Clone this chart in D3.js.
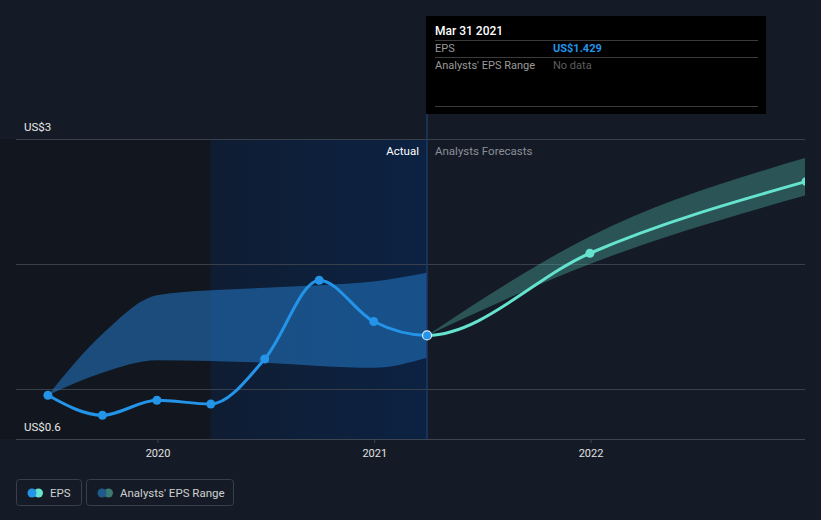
<!DOCTYPE html>
<html>
<head>
<meta charset="utf-8">
<script src="https://cdn.jsdelivr.net/npm/d3@7/dist/d3.min.js"></script>
<style>
  html, body { margin: 0; padding: 0; background: #151b26; }
  svg { display: block; font-family: Roboto, "Open Sans", sans-serif; }
</style>
</head>
<body>
<svg id="chart" width="821" height="520"></svg>
<script>
// ---- data ----
const actualDates = ["2019-06-30", "2019-09-30", "2019-12-31", "2020-03-31", "2020-06-30", "2020-09-30", "2020-12-31", "2021-03-31"];
const actualEPS = [0.95, 0.79, 0.91, 0.88, 1.24, 1.87, 1.54, 1.429];
const actualRangeLow = [0.95, 1.13, 1.23, 1.225, 1.21, 1.185, 1.17, 1.25];
const actualRangeHigh = [0.95, 1.44, 1.75, 1.79, 1.81, 1.83, 1.86, 1.93];
const forecastDates = ["2021-03-31", "2021-12-31", "2022-12-31"];
const forecastEPS = [1.429, 2.086, 2.66];
const forecastLow = [1.429, 2.0, 2.55];
const forecastHigh = [1.429, 2.22, 2.85];
const yTickValues = [0.6, 1, 2, 3];
const yTickLabels = ["US$0.6", "", "", "US$3"];
const xTickYears = ["2020", "2021", "2022"];

const parse = d3.timeParse("%Y-%m-%d");
const svg = d3.select("#chart");
const W = 821, H = 520;
const pLeft = 16, pRight = 805, pTop = 139, pBottom = 439;

const x = d3.scaleTime()
  .domain([parse("2020-01-01"), parse("2022-01-01")])
  .range([157.5, 590.5]);
const y = d3.scaleLinear().domain([0.6, 3]).range([pBottom, pTop]);

const nowDate = parse("2021-03-31");
const highlightStart = parse("2020-03-31");
const xNow = x(nowDate);

// background
svg.append("rect").attr("width", W).attr("height", H).attr("fill", "#151b26");
const defs = svg.append("defs");
const grad = defs.append("linearGradient").attr("id", "hl").attr("x1", 0).attr("x2", 1).attr("y1", 0).attr("y2", 0);
grad.append("stop").attr("offset", 0).attr("stop-color", "#0f1d33");
grad.append("stop").attr("offset", 1).attr("stop-color", "#0c2242");

svg.append("rect").attr("x", 0).attr("y", pTop).attr("width", x(highlightStart)).attr("height", pBottom - pTop).attr("fill", "#12171f");
svg.append("rect").attr("x", x(highlightStart)).attr("y", pTop).attr("width", xNow - x(highlightStart)).attr("height", pBottom - pTop).attr("fill", "url(#hl)");

// gridlines
svg.append("g").selectAll("line").data(yTickValues.slice(1)).join("line")
  .attr("x1", pLeft).attr("x2", pRight).attr("y1", d => y(d) + 0.5).attr("y2", d => y(d) + 0.5)
  .attr("stroke", "#3a404b").attr("stroke-width", 1);

// x axis
const xAxis = svg.append("g").attr("transform", `translate(0,${pBottom})`)
  .call(d3.axisBottom(x).tickValues(xTickYears.map(s => parse(s + "-01-01"))).tickFormat(d3.timeFormat("%Y")).tickSize(4).tickPadding(6));
xAxis.select(".domain").attr("stroke", "#3f4550").attr("d", `M${pLeft},0.5H${pRight}`);
xAxis.selectAll(".tick line").attr("stroke", "#3f4550");
xAxis.selectAll(".tick text").attr("fill", "#e0e0e0").attr("font-size", 11).attr("font-family", "Roboto, sans-serif");

// y labels
svg.append("g").selectAll("text").data(yTickValues.map((v, i) => ({v, l: yTickLabels[i]})).filter(d => d.l)).join("text")
  .attr("x", 24).attr("y", d => y(d.v) - 8).attr("fill", "#e8e8e8").attr("font-size", 11.5)
  .text(d => d.l);

// clip
defs.append("clipPath").attr("id", "plot").append("rect").attr("x", pLeft).attr("y", 0).attr("width", pRight - pLeft).attr("height", pBottom);
defs.append("clipPath").attr("id", "leftClip").append("rect").attr("x", 0).attr("y", 0).attr("width", xNow).attr("height", H);
defs.append("clipPath").attr("id", "rightClip").append("rect").attr("x", xNow).attr("y", 0).attr("width", pRight - xNow).attr("height", H);

const plot = svg.append("g").attr("clip-path", "url(#plot)");

// actual range band
const aData = actualDates.map((d, i) => ({d: parse(d), lo: actualRangeLow[i], hi: actualRangeHigh[i]}));
const area = d3.area().x(d => x(d.d)).y0(d => y(d.lo)).y1(d => y(d.hi)).curve(d3.curveMonotoneX);
plot.append("path").datum(aData).attr("d", area).attr("fill", "#2278c6").attr("opacity", 0.55);

// forecast band
const fData = forecastDates.map((d, i) => ({d: parse(d), lo: forecastLow[i], hi: forecastHigh[i]}));
plot.append("path").datum(fData).attr("d", area).attr("fill", "#4cb3a2").attr("opacity", 0.38);

// vertical now line
svg.append("line").attr("x1", xNow).attr("x2", xNow).attr("y1", 114).attr("y2", pBottom)
  .attr("stroke", "#1b3a66").attr("stroke-width", 1.5);

// EPS line (single series, coloured by clip)
const allPts = actualDates.map((d, i) => ({d: parse(d), v: actualEPS[i]}))
  .concat(forecastDates.slice(1).map((d, i) => ({d: parse(d), v: forecastEPS[i + 1]})));
const line = d3.line().x(d => x(d.d)).y(d => y(d.v)).curve(d3.curveMonotoneX);
plot.append("path").datum(allPts).attr("d", line).attr("fill", "none").attr("stroke", "#2394e8").attr("stroke-width", 3).attr("clip-path", "url(#leftClip)");
plot.append("path").datum(allPts).attr("d", line).attr("fill", "none").attr("stroke", "#66e3cf").attr("stroke-width", 3).attr("clip-path", "url(#rightClip)");

// points
plot.append("g").selectAll("circle").data(actualDates.slice(0, -1).map((d, i) => ({d: parse(d), v: actualEPS[i]}))).join("circle")
  .attr("cx", d => x(d.d)).attr("cy", d => y(d.v)).attr("r", 4.5).attr("fill", "#2394e8");
plot.append("g").selectAll("circle").data(forecastDates.slice(1).map((d, i) => ({d: parse(d), v: forecastEPS[i + 1]}))).join("circle")
  .attr("cx", d => x(d.d)).attr("cy", d => y(d.v)).attr("r", 4.5).attr("fill", "#66e3cf");
svg.append("circle").attr("cx", xNow).attr("cy", y(actualEPS[actualEPS.length - 1])).attr("r", 4.5)
  .attr("fill", "#2394e8").attr("stroke", "#d8ecff").attr("stroke-width", 1.2);

// Actual / Forecast labels
svg.append("text").attr("x", xNow - 8).attr("y", 155).attr("text-anchor", "end").attr("fill", "#ffffff").attr("font-size", 11.5).text("Actual");
svg.append("text").attr("x", xNow + 8).attr("y", 155).attr("fill", "#8a8f98").attr("font-size", 11.5).text("Analysts Forecasts");

// tooltip
const tt = svg.append("g");
tt.append("rect").attr("x", 426).attr("y", 16).attr("width", 340).attr("height", 98).attr("fill", "#000000");
[40, 57, 106].forEach(yy => tt.append("line").attr("x1", 435).attr("x2", 758).attr("y1", yy + 0.5).attr("y2", yy + 0.5).attr("stroke", "#3b3b3b"));
tt.append("text").attr("x", 435).attr("y", 35).attr("fill", "#ffffff").attr("font-size", 12).attr("font-weight", 500).text("Mar 31 2021");
tt.append("text").attr("x", 435).attr("y", 52).attr("fill", "#9a9a9a").attr("font-size", 11).text("EPS");
tt.append("text").attr("x", 553).attr("y", 52).attr("fill", "#2394e8").attr("font-size", 11).attr("font-weight", 700).text("US$" + actualEPS[actualEPS.length - 1].toFixed(3));
tt.append("text").attr("x", 435).attr("y", 69).attr("fill", "#9a9a9a").attr("font-size", 11).text("Analysts' EPS Range");
tt.append("text").attr("x", 553).attr("y", 69).attr("fill", "#5e5e5e").attr("font-size", 11).text("No data");

// legend
const lg = svg.append("g");
lg.append("rect").attr("x", 16.5).attr("y", 479.5).attr("width", 65).attr("height", 26).attr("rx", 3).attr("fill", "none").attr("stroke", "#3a404b");
lg.append("circle").attr("cx", 38.5).attr("cy", 493).attr("r", 4.5).attr("fill", "#66e3cf");
lg.append("circle").attr("cx", 32).attr("cy", 493).attr("r", 4.5).attr("fill", "#2394e8");
lg.append("text").attr("x", 50).attr("y", 497).attr("fill", "#d0d0d0").attr("font-size", 11.5).text("EPS");
lg.append("rect").attr("x", 86.5).attr("y", 479.5).attr("width", 147).attr("height", 26).attr("rx", 3).attr("fill", "none").attr("stroke", "#3a404b");
lg.append("circle").attr("cx", 108.5).attr("cy", 493).attr("r", 4.5).attr("fill", "#3a7a72");
lg.append("circle").attr("cx", 102).attr("cy", 493).attr("r", 4.5).attr("fill", "#1e5a8c");
lg.append("text").attr("x", 120).attr("y", 497).attr("fill", "#d0d0d0").attr("font-size", 11.5).text("Analysts' EPS Range");
</script>
</body>
</html>
